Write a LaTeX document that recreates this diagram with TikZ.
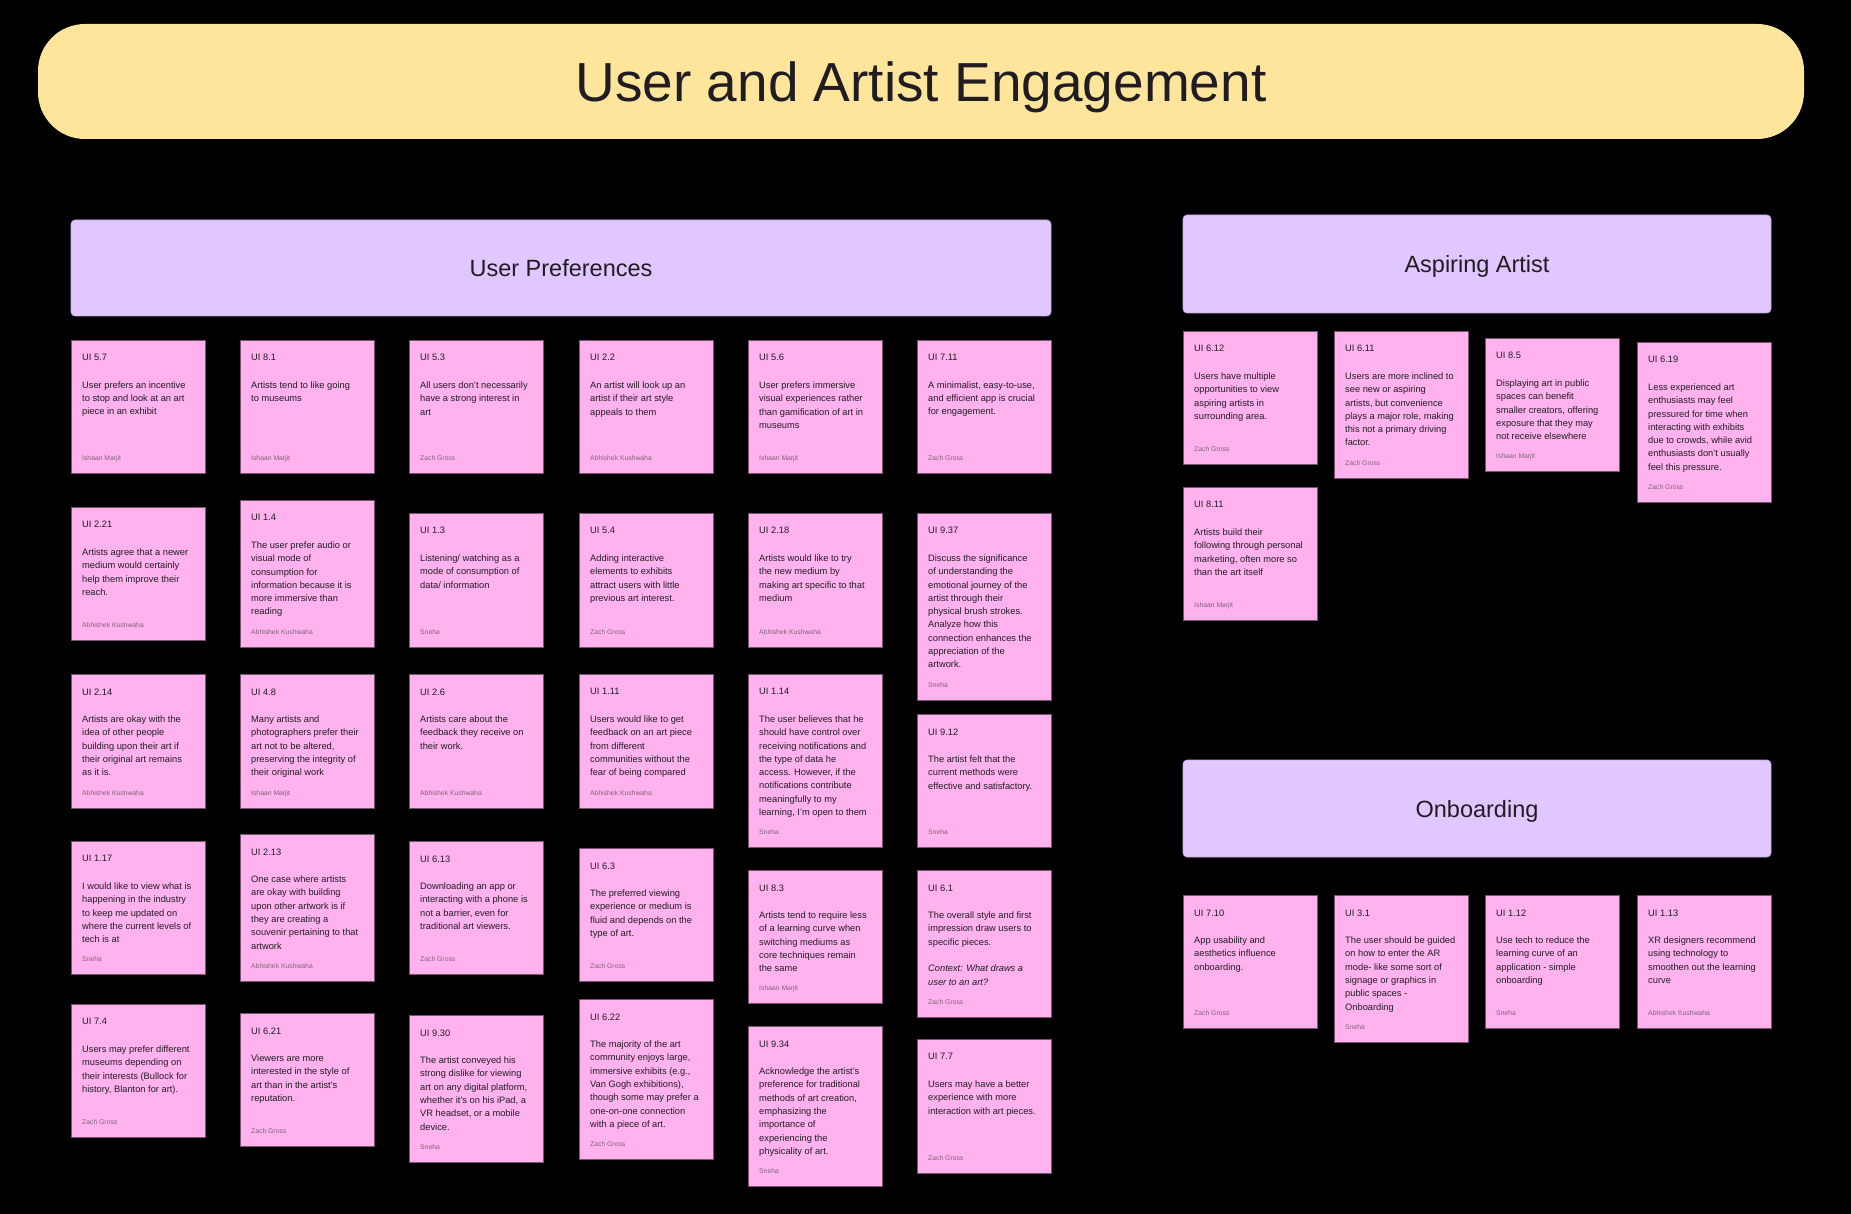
\documentclass[tikz,border=0pt]{standalone}
\usepackage{fontspec}
\setmainfont{Liberation Sans}
\usetikzlibrary{positioning}
\definecolor{uxpink}{RGB}{255, 178, 238}
\definecolor{uxedge}{RGB}{120, 80, 112}
\definecolor{uxlilac}{RGB}{225, 199, 255}
\definecolor{uxsand}{RGB}{253, 229, 156}
\definecolor{uxink}{RGB}{32, 28, 34}
\definecolor{uxby}{RGB}{128, 100, 122}
\tikzset{
  stickybox/.style={rectangle, draw=uxedge, line width=0.8pt, fill=uxpink,
                    minimum width=134pt, minimum height=#1, inner sep=0pt, anchor=north west},
  stickybox/.default=133pt,
  stickytext/.style={align=left, inner sep=0pt, anchor=north west, text=uxink,
                     font=\fontsize{9.3}{13.3}\selectfont},
  stickyby/.style={inner sep=0pt, anchor=base west, text=uxby,
                   font=\fontsize{6.8}{8}\selectfont},
  groupbar/.style={rectangle, rounded corners=4pt, draw=uxlilac!85!black, line width=0.6pt,
                   fill=uxlilac, text=uxink, text depth=0pt, font=\fontsize{23.5}{28}\selectfont},
  titlebar/.style={rectangle, rounded corners=47pt, fill=uxsand, text=uxink, text depth=0pt,
                   minimum width=1766pt, minimum height=115pt, font=\fontsize{55}{60}\selectfont},
}
% one sticky note: name, x, y, height, id, text, author
\newcommand{\stickynote}[7]{%
  \node[stickybox=#4pt] (#1) at (#2,#3) {};
  \node[stickytext] (#1-txt) at ([xshift=11pt,yshift=-14.3pt]#1.north west) {#5\\[14.2pt]#6};
  \node[stickyby] (#1-by) at ([xshift=11pt,yshift=13pt]#1.south west) {#7};
}

\begin{document}
\begin{tikzpicture}[x=1pt, y=-1pt]
  \fill[black] (0,0) rectangle (1851,1214);

  % title and group headers
  \node[titlebar] (title) at (921,81.5) {User and Artist Engagement};
  \node[groupbar, minimum width=980pt, minimum height=96pt] (prefs) at (561,268) {User Preferences};
  \node[groupbar, minimum width=588pt, minimum height=98pt] (aspiring) at (1477,264) {Aspiring Artist};
  \node[groupbar, minimum width=588pt, minimum height=97pt] (onboard) at (1477,808.5) {Onboarding};

  % user preferences, column 1
  \stickynote{n57}{71}{340}{133}{UI 5.7}{User prefers an incentive\\to stop and look at an art\\piece in an exhibit}{Ishaan Marjit}
  \stickynote{n221}{71}{507}{133}{UI 2.21}{Artists agree that a newer\\medium would certainly\\help them improve their\\reach.}{Abhishek Kushwaha}
  \stickynote{n214}{71}{674}{134}{UI 2.14}{Artists are okay with the\\idea of other people\\building upon their art if\\their original art remains\\as it is.}{Abhishek Kushwaha}
  \stickynote{n117}{71}{841}{133}{UI 1.17}{I would like to view what is\\happening in the industry\\to keep me updated on\\where the current levels of\\tech is at}{Sneha}
  \stickynote{n74}{71}{1004}{133}{UI 7.4}{Users may prefer different\\museums depending on\\their interests (Bullock for\\history, Blanton for art).}{Zach Gross}

  % column 2
  \stickynote{n81}{240}{340}{133}{UI 8.1}{Artists tend to like going\\to museums}{Ishaan Marjit}
  \stickynote{n14}{240}{500}{147}{UI 1.4}{The user prefer audio or\\visual mode of\\consumption for\\information because it is\\more immersive than\\reading}{Abhishek Kushwaha}
  \stickynote{n48}{240}{674}{134}{UI 4.8}{Many artists and\\photographers prefer their\\art not to be altered,\\preserving the integrity of\\their original work}{Ishaan Marjit}
  \stickynote{n213}{240}{834}{147}{UI 2.13}{One case where artists\\are okay with building\\upon other artwork is if\\they are creating a\\souvenir pertaining to that\\artwork}{Abhishek Kushwaha}
  \stickynote{n621}{240}{1013}{133}{UI 6.21}{Viewers are more\\interested in the style of\\art than in the artist’s\\reputation.}{Zach Gross}

  % column 3
  \stickynote{n53}{409}{340}{133}{UI 5.3}{All users don’t necessarily\\have a strong interest in\\art}{Zach Gross}
  \stickynote{n13}{409}{513}{134}{UI 1.3}{Listening/ watching as a\\mode of consumption of\\data/ information}{Sneha}
  \stickynote{n26}{409}{674}{134}{UI 2.6}{Artists care about the\\feedback they receive on\\their work.}{Abhishek Kushwaha}
  \stickynote{n613}{409}{841}{133}{UI 6.13}{Downloading an app or\\interacting with a phone is\\not a barrier, even for\\traditional art viewers.}{Zach Gross}
  \stickynote{n930}{409}{1015}{147}{UI 9.30}{The artist conveyed his\\strong dislike for viewing\\art on any digital platform,\\whether it’s on his iPad, a\\VR headset, or a mobile\\device.}{Sneha}

  % column 4
  \stickynote{n22}{579}{340}{133}{UI 2.2}{An artist will look up an\\artist if their art style\\appeals to them}{Abhishek Kushwaha}
  \stickynote{n54}{579}{513}{134}{UI 5.4}{Adding interactive\\elements to exhibits\\attract users with little\\previous art interest.}{Zach Gross}
  \stickynote{n111}{579}{674}{134}{UI 1.11}{Users would like to get\\feedback on an art piece\\from different\\communities without the\\fear of being compared}{Abhishek Kushwaha}
  \stickynote{n63}{579}{848}{133}{UI 6.3}{The preferred viewing\\experience or medium is\\fluid and depends on the\\type of art.}{Zach Gross}
  \stickynote{n622}{579}{999}{160}{UI 6.22}{The majority of the art\\community enjoys large,\\immersive exhibits (e.g.,\\Van Gogh exhibitions),\\though some may prefer a\\one-on-one connection\\with a piece of art.}{Zach Gross}

  % column 5
  \stickynote{n56}{748}{340}{133}{UI 5.6}{User prefers immersive\\visual experiences rather\\than gamification of art in\\museums}{Ishaan Marjit}
  \stickynote{n218}{748}{513}{134}{UI 2.18}{Artists would like to try\\the new medium by\\making art specific to that\\medium}{Abhishek Kushwaha}
  \stickynote{n114}{748}{674}{173}{UI 1.14}{The user believes that he\\should have control over\\receiving notifications and\\the type of data he\\access. However, if the\\notifications contribute\\meaningfully to my\\learning, I’m open to them}{Sneha}
  \stickynote{n83}{748}{870}{133}{UI 8.3}{Artists tend to require less\\of a learning curve when\\switching mediums as\\core techniques remain\\the same}{Ishaan Marjit}
  \stickynote{n934}{748}{1026}{160}{UI 9.34}{Acknowledge the artist’s\\preference for traditional\\methods of art creation,\\emphasizing the\\importance of\\experiencing the\\physicality of art.}{Sneha}

  % column 6
  \stickynote{n711}{917}{340}{133}{UI 7.11}{A minimalist, easy-to-use,\\and efficient app is crucial\\for engagement.}{Zach Gross}
  \stickynote{n937}{917}{513}{187}{UI 9.37}{Discuss the significance\\of understanding the\\emotional journey of the\\artist through their\\physical brush strokes.\\Analyze how this\\connection enhances the\\appreciation of the\\artwork.}{Sneha}
  \stickynote{n912}{917}{714}{133}{UI 9.12}{The artist felt that the\\current methods were\\effective and satisfactory.}{Sneha}
  \stickynote{n61}{917}{870}{147}{UI 6.1}{The overall style and first\\impression draw users to\\specific pieces.\\[13.3pt]\textit{Context: What draws a}\\\textit{user to an art?}}{Zach Gross}
  \stickynote{n77}{917}{1039}{134}{UI 7.7}{Users may have a better\\experience with more\\interaction with art pieces.}{Zach Gross}

  % aspiring artist
  \stickynote{a612}{1183}{331}{133}{UI 6.12}{Users have multiple\\opportunities to view\\aspiring artists in\\surrounding area.}{Zach Gross}
  \stickynote{a611}{1334}{331}{147}{UI 6.11}{Users are more inclined to\\see new or aspiring\\artists, but convenience\\plays a major role, making\\this not a primary driving\\factor.}{Zach Gross}
  \stickynote{a85}{1485}{338}{133}{UI 8.5}{Displaying art in public\\spaces can benefit\\smaller creators, offering\\exposure that they may\\not receive elsewhere}{Ishaan Marjit}
  \stickynote{a619}{1637}{342}{160}{UI 6.19}{Less experienced art\\enthusiasts may feel\\pressured for time when\\interacting with exhibits\\due to crowds, while avid\\enthusiasts don’t usually\\feel this pressure.}{Zach Gross}
  \stickynote{a811}{1183}{487}{133}{UI 8.11}{Artists build their\\following through personal\\marketing, often more so\\than the art itself}{Ishaan Marjit}

  % onboarding
  \stickynote{o710}{1183}{895}{133}{UI 7.10}{App usability and\\aesthetics influence\\onboarding.}{Zach Gross}
  \stickynote{o31}{1334}{895}{147}{UI 3.1}{The user should be guided\\on how to enter the AR\\mode- like some sort of\\signage or graphics in\\public spaces -\\Onboarding}{Sneha}
  \stickynote{o112}{1485}{895}{133}{UI 1.12}{Use tech to reduce the\\learning curve of an\\application - simple\\onboarding}{Sneha}
  \stickynote{o113}{1637}{895}{133}{UI 1.13}{XR designers recommend\\using technology to\\smoothen out the learning\\curve}{Abhishek Kushwaha}
\end{tikzpicture}
\end{document}
